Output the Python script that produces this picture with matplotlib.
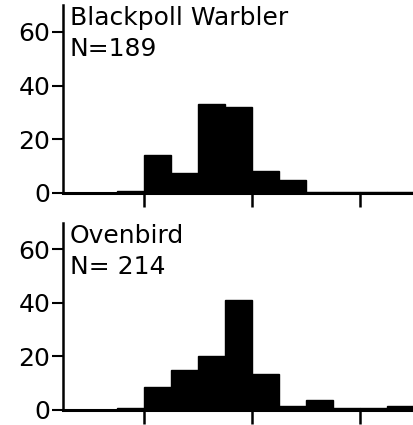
import numpy as np
import matplotlib
matplotlib.use('Agg')
import matplotlib.pyplot as plt

plt.rcParams['font.family'] = ['DejaVu Sans']

# bin index 0..12, 4 bins between major ticks
bins = np.arange(13)
blackpoll = [0, 0, 0.7, 14, 7.5, 33, 32, 8, 5, 0.3, 0.3, 0.3, 0.3]
ovenbird = [0, 0, 0.6, 8.5, 15, 20, 41, 13.5, 1.5, 3.5, 0.8, 0.8, 1.5]
panels = [("Blackpoll Warbler", "N=189", blackpoll),
          ("Ovenbird", "N= 214", ovenbird)]
yticks = [0, 20, 40, 60]
xticks = [3, 7, 11]

fig = plt.figure(figsize=(4.14, 4.25), dpi=100)
rects = [[0.152, 0.546, 0.848, 0.442], [0.152, 0.036, 0.848, 0.44]]

for (name, n, vals), r in zip(panels, rects):
    ax = fig.add_axes(r)
    ax.bar(bins, vals, width=1.0, align='edge', color='black',
           edgecolor='black', linewidth=1)
    ax.set_xlim(0, 13)
    ax.set_ylim(0, 70)
    ax.set_yticks(yticks)
    ax.set_xticks(xticks)
    ax.set_xticklabels([])
    for s in ['top', 'right']:
        ax.spines[s].set_visible(False)
    ax.spines['left'].set_linewidth(1.8)
    ax.spines['bottom'].set_linewidth(2.2)
    ax.tick_params(axis='y', length=8, width=1.5, pad=1, labelsize=18)
    ax.tick_params(axis='x', length=10, width=1.8, direction='out')
    ax.text(0.25, 69.5, name, fontsize=18, va='top', ha='left')
    ax.text(0.25, 58, n, fontsize=18, va='top', ha='left')

plt.savefig('out.png', dpi=100)
